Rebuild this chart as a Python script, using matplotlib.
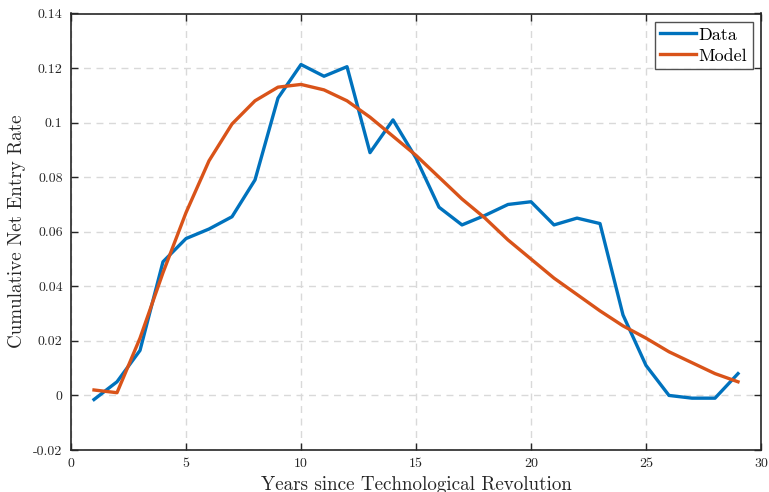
import matplotlib
matplotlib.use("Agg")
import matplotlib.pyplot as plt

years = list(range(1, 30))
data_rate = [-0.0015, 0.005, 0.0165, 0.049, 0.0575, 0.061, 0.0655, 0.079, 0.109, 0.1213,
             0.117, 0.1205, 0.089, 0.101, 0.087, 0.069, 0.0625, 0.066, 0.070, 0.071,
             0.0625, 0.065, 0.063, 0.0295, 0.011, 0.000, -0.001, -0.001, 0.008]
model_rate = [0.002, 0.001, 0.021, 0.045, 0.067, 0.086, 0.0995, 0.108, 0.113, 0.114,
              0.112, 0.108, 0.102, 0.095, 0.088, 0.080, 0.072, 0.065, 0.057, 0.050,
              0.043, 0.037, 0.031, 0.0255, 0.021, 0.016, 0.012, 0.008, 0.005]
x_ticks = [0, 5, 10, 15, 20, 25, 30]
y_ticks = [-0.02, 0, 0.02, 0.04, 0.06, 0.08, 0.1, 0.12, 0.14]
y_tick_labels = ["-0.02", "0", "0.02", "0.04", "0.06", "0.08", "0.1", "0.12", "0.14"]

plt.rcParams["font.family"] = ["cmr10", "DejaVu Serif"]
plt.rcParams["axes.unicode_minus"] = False
plt.rcParams["mathtext.fontset"] = "cm"

ink = "#262626"
fig = plt.figure(figsize=(7.69, 4.92), dpi=100)
ax = fig.add_axes([71 / 769, 42 / 492, 690 / 769, 436.5 / 492])

ax.plot(years, data_rate, color="#0072BD", lw=2.4, label="Data")
ax.plot(years, model_rate, color="#D95319", lw=2.4, label="Model")

ax.set_xlim(0, 30)
ax.set_ylim(-0.02, 0.14)
ax.set_xticks(x_ticks)
ax.set_xticklabels([str(t) for t in x_ticks])
ax.set_yticks(y_ticks)
ax.set_yticklabels(y_tick_labels)

ax.grid(True, color="#d9d9d9", linestyle=(0, (5, 4)), linewidth=1.0)
ax.set_axisbelow(True)
for s in ax.spines.values():
    s.set_color(ink)
    s.set_linewidth(1.2)
ax.tick_params(direction="in", length=5, width=1.0, color=ink, labelcolor=ink,
               labelsize=10, top=True, right=True, pad=6)

ax.set_xlabel("Years since Technological Revolution", fontsize=13.7, color=ink, labelpad=4)
ax.set_ylabel("Cumulative Net Entry Rate", fontsize=13.7, color=ink, labelpad=5)

leg = ax.legend(loc="upper right", fontsize=13, frameon=True, fancybox=False,
                handlelength=2.0, handletextpad=0.15, borderpad=0.3,
                labelspacing=0.3, borderaxespad=0.45)
leg.get_frame().set_edgecolor(ink)
leg.get_frame().set_linewidth(1.0)

fig.savefig("out.png", dpi=100)
